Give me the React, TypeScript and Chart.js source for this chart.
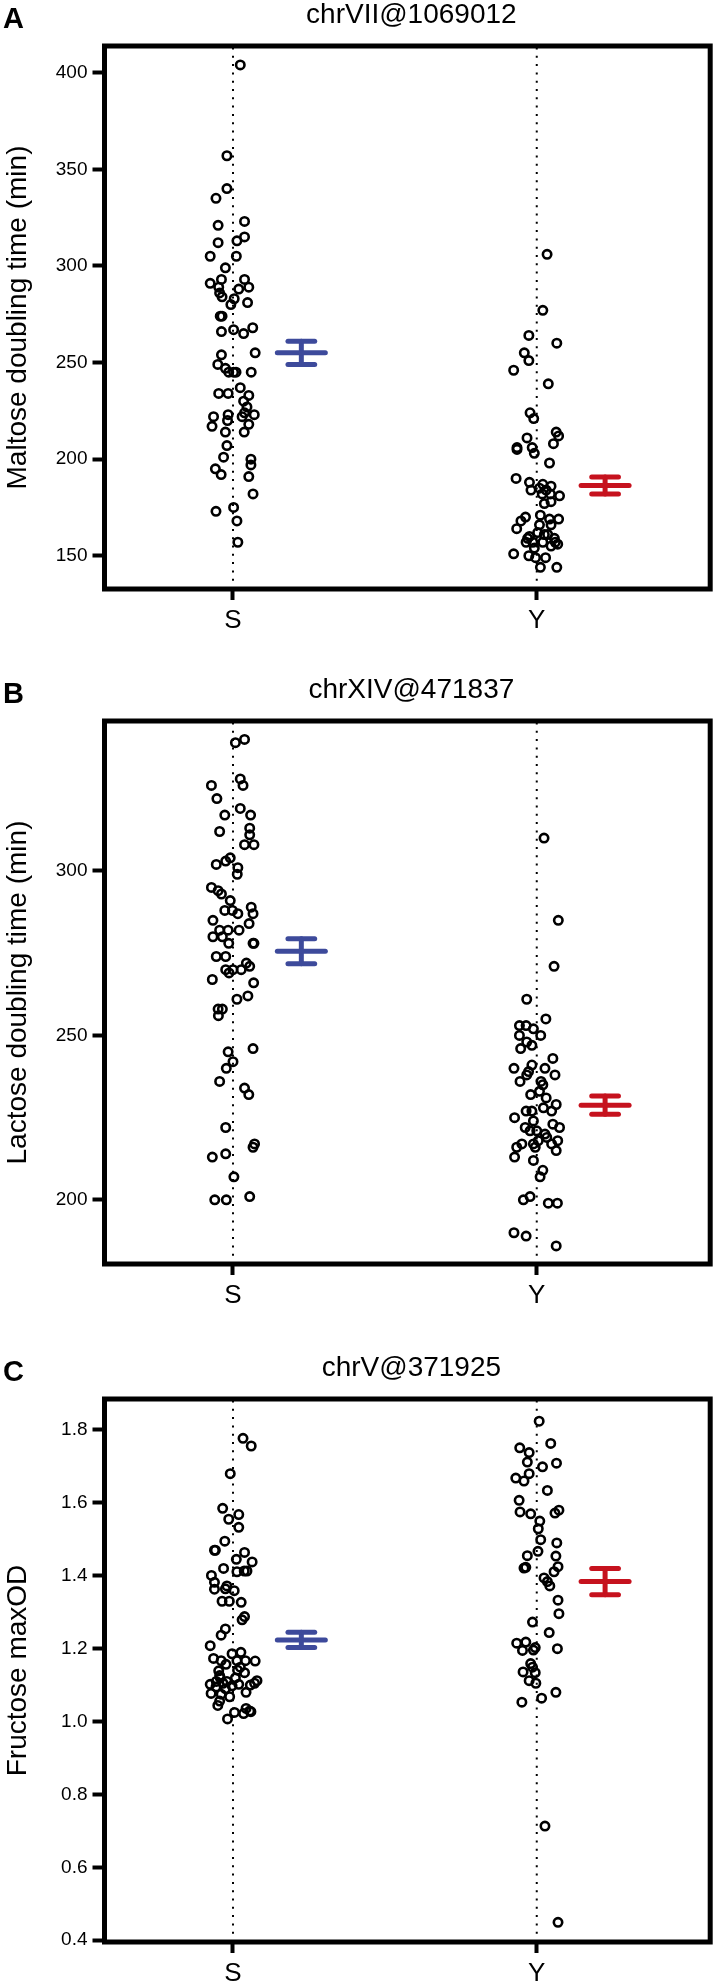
import React, { useEffect, useRef } from "react";
import { Chart, registerables } from "chart.js";

Chart.register(...registerables);

const FONT = '"Liberation Sans", Arial, Helvetica, sans-serif';

// ---------- data ----------
const groups = ["S", "Y"];
const panelLetters = ["A", "B", "C"];
const panelTitles = ["chrVII@1069012", "chrXIV@471837", "chrV@371925"];
const yAxisTitles = ["Maltose doubling time (min)", "Lactose doubling time (min)", "Fructose maxOD"];

const maltoseTicks = [150, 200, 250, 300, 350, 400];
const lactoseTicks = [200, 250, 300];
const fructoseTicks = [0.4, 0.6, 0.8, 1.0, 1.2, 1.4, 1.6, 1.8];

const maltoseS = [404, 357, 340, 335, 323, 321, 315, 312, 313, 305, 305, 299, 291, 293, 293, 289, 289, 288, 286, 284, 283, 280, 281, 274, 274, 267, 266, 265, 268, 255, 254, 249, 247, 245, 245, 245, 245, 237, 233, 234, 234, 230, 227, 224, 223, 222, 223, 222, 217, 220, 218, 214, 214, 207, 201, 200, 197, 195, 192, 191, 182, 173, 175, 168, 157];
const maltoseSJitter = [0.024, -0.020, -0.020, -0.056, 0.038, -0.049, 0.038, -0.049, 0.013, -0.075, 0.011, -0.025, -0.075, -0.038, 0.038, -0.047, 0.052, 0.019, -0.044, -0.036, 0.004, -0.007, 0.048, -0.042, -0.036, 0.002, -0.038, 0.035, 0.065, 0.073, -0.038, -0.050, -0.025, -0.014, 0.002, 0.010, 0.060, 0.024, 0.052, -0.047, -0.016, 0.035, 0.046, 0.038, 0.070, -0.064, -0.016, 0.030, -0.069, -0.018, 0.052, -0.025, 0.037, -0.020, -0.031, 0.059, 0.059, -0.058, -0.039, 0.052, 0.066, -0.056, 0.002, 0.013, 0.016];
const maltoseY = [306, 277, 264, 260, 255, 251, 246, 239, 224, 221, 214, 212, 208, 211, 206, 205, 206, 203, 198, 190, 188, 187, 186, 184, 185, 184, 181, 182, 182, 177, 178, 170, 168, 164, 171, 169, 169, 166, 166, 160, 162, 161, 157, 157, 157, 157, 156, 154, 155, 151, 150, 149, 149, 144, 144, 159, 161, 159];
const maltoseYJitter = [0.034, 0.020, -0.026, 0.066, -0.041, -0.026, -0.076, 0.038, -0.022, -0.010, 0.064, 0.072, 0.055, -0.032, -0.065, -0.065, -0.015, -0.008, 0.042, -0.068, -0.024, 0.020, 0.047, -0.019, 0.009, 0.031, 0.075, 0.018, 0.045, 0.025, 0.047, -0.037, -0.052, -0.066, 0.012, 0.042, 0.072, 0.009, 0.047, -0.024, 0.003, 0.036, -0.035, -0.013, 0.020, 0.061, 0.069, -0.008, 0.047, -0.076, -0.026, -0.004, 0.029, 0.012, 0.066, -0.030, 0.025, 0.058];
const maltoseMeans = [255, 186.3];
const maltoseSE = [6, 4.4];

const lactoseS = [339, 340, 326, 328, 326, 322, 319, 317, 317, 312, 313, 311, 308, 308, 304, 302, 303, 301, 299, 295, 294, 293, 291, 289, 287, 288, 288, 287, 285, 284, 282, 282, 282, 280, 280, 278, 278, 278, 274, 274, 270, 270, 270, 272, 271, 269, 267, 266, 262, 261, 258, 258, 256, 246, 245, 242, 240, 236, 234, 232, 222, 217, 216, 213, 214, 207, 200, 200, 201];
const lactoseSJitter = [0.008, 0.038, -0.071, 0.024, 0.033, -0.053, 0.024, -0.027, 0.058, -0.044, 0.055, 0.055, 0.038, 0.069, -0.009, -0.055, -0.024, 0.016, 0.014, -0.071, -0.049, -0.038, -0.009, 0.060, 0.066, -0.027, -0.002, 0.016, -0.066, 0.053, -0.044, -0.016, 0.020, -0.066, -0.035, -0.014, 0.069, 0.066, -0.055, -0.024, -0.024, 0, 0.027, 0.044, 0.055, -0.013, -0.068, 0.068, 0.049, 0.013, -0.049, -0.035, -0.048, 0.066, -0.016, 0, -0.022, -0.044, 0.038, 0.052, -0.024, 0.071, 0.066, -0.068, -0.024, 0.003, -0.060, -0.022, 0.055];
const lactoseY = [310, 285, 271, 261, 255, 253, 253, 252, 250, 250, 248, 246, 247, 243, 240, 241, 240, 238, 239, 238, 236, 236, 235, 233, 232, 231, 229, 228, 227, 227, 227, 225, 224, 223, 222, 222, 221, 221, 220, 218, 218, 216, 216, 217, 217, 215, 213, 212, 209, 207, 200, 201, 199, 199, 190, 189, 186, 217, 219];
const lactoseYJitter = [0.024, 0.071, 0.057, -0.033, 0.030, -0.057, -0.035, -0.011, 0.013, -0.057, -0.033, -0.053, -0.016, 0.053, -0.075, -0.016, 0.027, 0.060, -0.027, -0.033, -0.055, 0.014, 0.020, 0.009, -0.020, 0.031, 0.064, 0.022, -0.035, -0.016, 0.049, -0.073, -0.011, 0.053, 0.075, -0.038, -0.022, 0, 0.027, 0.069, 0.005, -0.005, -0.066, -0.049, 0.049, 0.064, -0.073, -0.011, 0.020, 0.011, -0.044, -0.022, 0.038, 0.068, -0.075, -0.035, 0.064, -0.011, 0.033];
const lactoseMeans = [275.6, 228.8];
const lactoseSE = [3.8, 2.8];

const fructoseS = [1.777, 1.756, 1.680, 1.585, 1.568, 1.555, 1.533, 1.495, 1.470, 1.470, 1.464, 1.445, 1.438, 1.420, 1.411, 1.413, 1.413, 1.401, 1.382, 1.363, 1.372, 1.364, 1.359, 1.330, 1.330, 1.327, 1.288, 1.279, 1.254, 1.237, 1.208, 1.173, 1.186, 1.190, 1.167, 1.157, 1.167, 1.167, 1.166, 1.139, 1.141, 1.134, 1.120, 1.102, 1.110, 1.105, 1.110, 1.098, 1.102, 1.100, 1.112, 1.105, 1.077, 1.075, 1.068, 1.080, 1.056, 1.044, 1.036, 1.029, 1.022, 1.027, 1.025, 1.007, 1.095, 1.090, 1.120, 1.149, 1.126];
const fructoseSJitter = [0.033, 0.060, -0.009, -0.034, 0.019, -0.014, 0.019, -0.027, -0.058, -0.061, 0.038, 0.011, 0.063, -0.031, 0.013, 0.037, 0.046, -0.071, -0.061, -0.061, -0.020, -0.025, 0.004, -0.036, -0.012, 0.027, 0.038, 0.030, -0.025, -0.039, -0.075, -0.064, -0.003, 0.026, -0.039, -0.023, 0.013, 0.041, 0.073, -0.047, 0.015, 0.038, -0.042, -0.075, -0.055, -0.033, -0.020, -0.003, 0.019, 0.057, 0.079, 0.071, -0.072, -0.039, -0.011, 0.043, -0.044, -0.050, 0.043, 0.055, 0.035, 0.059, 0.005, -0.018, -0.056, -0.025, 0.008, 0.024, -0.044];
const fructoseY = [1.824, 1.763, 1.751, 1.738, 1.712, 1.699, 1.709, 1.680, 1.668, 1.660, 1.634, 1.607, 1.575, 1.570, 1.580, 1.572, 1.550, 1.529, 1.499, 1.490, 1.467, 1.455, 1.454, 1.421, 1.423, 1.425, 1.411, 1.394, 1.384, 1.372, 1.333, 1.296, 1.273, 1.244, 1.215, 1.218, 1.195, 1.196, 1.203, 1.200, 1.159, 1.149, 1.136, 1.134, 1.112, 1.105, 1.080, 1.064, 1.053, 0.713, 0.449];
const fructoseYJitter = [0.008, 0.046, -0.056, -0.025, -0.031, 0.019, 0.065, -0.025, -0.069, -0.042, 0.035, -0.058, -0.055, -0.020, 0.073, 0.060, 0.010, 0.005, 0.013, 0.066, 0.004, -0.031, 0.063, -0.042, -0.036, 0.070, 0.057, 0.024, 0.035, 0.043, 0.070, 0.073, -0.014, 0.041, -0.066, -0.036, -0.047, -0.011, -0.005, 0.068, -0.020, -0.014, -0.045, -0.005, -0.025, -0.003, 0.063, 0.016, -0.049, 0.027, 0.070];
const fructoseMeans = [1.224, 1.384];
const fructoseSE = [0.021, 0.036];

// ---------- panels ----------
const panels = [
  { yMin: 132.8, yMax: 413.8, ticks: maltoseTicks, dec: 0, vals: [maltoseS, maltoseY], jit: [maltoseSJitter, maltoseYJitter], means: maltoseMeans, se: maltoseSE },
  { yMin: 180.5, yMax: 345.6, ticks: lactoseTicks, dec: 0, vals: [lactoseS, lactoseY], jit: [lactoseSJitter, lactoseYJitter], means: lactoseMeans, se: lactoseSE },
  { yMin: 0.395, yMax: 1.885, ticks: fructoseTicks, dec: 1, vals: [fructoseS, fructoseY], jit: [fructoseSJitter, fructoseYJitter], means: fructoseMeans, se: fructoseSE },
];

const PANEL_TOPS = [0, 675, 1353];
const CANVAS_W = 717;
const CANVAS_H = 636;
const BAR_COLORS = ["#3D4A9B", "#C6121E"];
const BAR_SHIFT = 0.225;
const BAR_HALF = 0.079;
const CAP_HALF = 0.044;

function Panel({ index }: { index: number }) {
  const ref = useRef<HTMLCanvasElement | null>(null);
  useEffect(() => {
    const p = panels[index];
    const title = panelTitles[index];
    const letter = panelLetters[index];
    const datasets: any[] = [];
    // points
    groups.forEach((_, g) => {
      datasets.push({
        data: p.vals[g].map((v, i) => ({ x: g + 1 + p.jit[g][i], y: v })),
        pointRadius: 4.2,
        pointBorderWidth: 2.6,
        pointBorderColor: "#000",
        pointBackgroundColor: "rgba(0,0,0,0)",
        pointHoverRadius: 4.2,
        order: 0,
      });
    });
    // mean +/- SE bars
    groups.forEach((_, g) => {
      const cx = g + 1 + BAR_SHIFT;
      const m = p.means[g];
      const s = p.se[g];
      const segs = [
        [{ x: cx - BAR_HALF, y: m }, { x: cx + BAR_HALF, y: m }],
        [{ x: cx - CAP_HALF, y: m + s }, { x: cx + CAP_HALF, y: m + s }],
        [{ x: cx - CAP_HALF, y: m - s }, { x: cx + CAP_HALF, y: m - s }],
        [{ x: cx, y: m - s }, { x: cx, y: m + s }],
      ];
      segs.forEach((seg) => {
        datasets.push({
          data: seg,
          showLine: true,
          borderColor: BAR_COLORS[g],
          borderWidth: 5,
          borderCapStyle: "round",
          pointRadius: 0,
          pointHoverRadius: 0,
          order: 1,
        });
      });
    });
    // dotted category lines
    groups.forEach((_, g) => {
      datasets.push({
        data: [{ x: g + 1, y: p.yMin }, { x: g + 1, y: p.yMax }],
        showLine: true,
        borderColor: "#000",
        borderWidth: 2,
        borderDash: [2, 6.3],
        pointRadius: 0,
        pointHoverRadius: 0,
        order: 2,
      });
    });

    const framePlugin = {
      id: "frame" + index,
      afterDraw(chart: any) {
        const { ctx, chartArea: a } = chart;
        ctx.save();
        ctx.strokeStyle = "#000";
        ctx.lineWidth = 5;
        ctx.strokeRect(a.left, a.top, a.right - a.left, a.bottom - a.top);
        ctx.fillStyle = "#000";
        ctx.font = `28px ${FONT}`;
        ctx.textAlign = "center";
        ctx.textBaseline = "middle";
        ctx.fillText(title, (a.left + a.right) / 2 + 4, a.top - 31);
        ctx.font = `bold 29px ${FONT}`;
        ctx.textAlign = "left";
        ctx.textBaseline = "alphabetic";
        ctx.fillText(letter, 3, a.top - 18);
        ctx.restore();
      },
    };

    const chart = new Chart(ref.current as HTMLCanvasElement, {
      type: "scatter",
      data: { datasets },
      options: {
        animation: false,
        responsive: false,
        devicePixelRatio: 1,
        events: [],
        layout: { padding: { top: 46, right: 6.5, left: 0, bottom: 0 } },
        plugins: { legend: { display: false }, tooltip: { enabled: false }, title: { display: false } },
        scales: {
          x: {
            type: "linear",
            min: 0.577,
            max: 2.571,
            afterBuildTicks: (s: any) => {
              s.ticks = groups.map((_, i) => ({ value: i + 1 }));
            },
            afterFit: (s: any) => {
              s.height = 47;
            },
            ticks: {
              callback: (_v: any, i: number) => groups[i],
              font: { family: FONT, size: 26 },
              color: "#000",
              padding: 5,
              maxRotation: 0,
              autoSkip: false,
            },
            grid: { drawOnChartArea: false, drawTicks: true, tickLength: 11, tickWidth: 4, tickColor: "#000", color: "#000" },
            border: { display: false },
          },
          y: {
            type: "linear",
            min: p.yMin,
            max: p.yMax,
            afterBuildTicks: (s: any) => {
              s.ticks = p.ticks.map((v) => ({ value: v }));
            },
            afterFit: (s: any) => {
              s.width = 104.5;
            },
            ticks: {
              callback: (v: any) => Number(v).toFixed(p.dec),
              font: { family: FONT, size: 19 },
              color: "#000",
              padding: 5,
              autoSkip: false,
            },
            grid: { drawOnChartArea: false, drawTicks: true, tickLength: 12, tickWidth: 4, tickColor: "#000", color: "#000" },
            border: { display: false },
            title: {
              display: true,
              text: yAxisTitles[index],
              font: { family: FONT, size: 28 },
              color: "#000",
              padding: { top: 1, bottom: 0 },
            },
          },
        },
      },
      plugins: [framePlugin],
    } as any);
    return () => chart.destroy();
  }, [index]);

  return (
    <canvas
      ref={ref}
      width={CANVAS_W}
      height={CANVAS_H}
      style={{ position: "absolute", left: 0, top: PANEL_TOPS[index], width: CANVAS_W, height: CANVAS_H }}
    />
  );
}

export default function App() {
  return (
    <div
      style={{
        position: "absolute",
        left: 0,
        top: 0,
        width: 717,
        height: 1984,
        overflow: "hidden",
        background: "#fff",
      }}
    >
      {panels.map((_, i) => (
        <Panel key={i} index={i} />
      ))}
    </div>
  );
}
